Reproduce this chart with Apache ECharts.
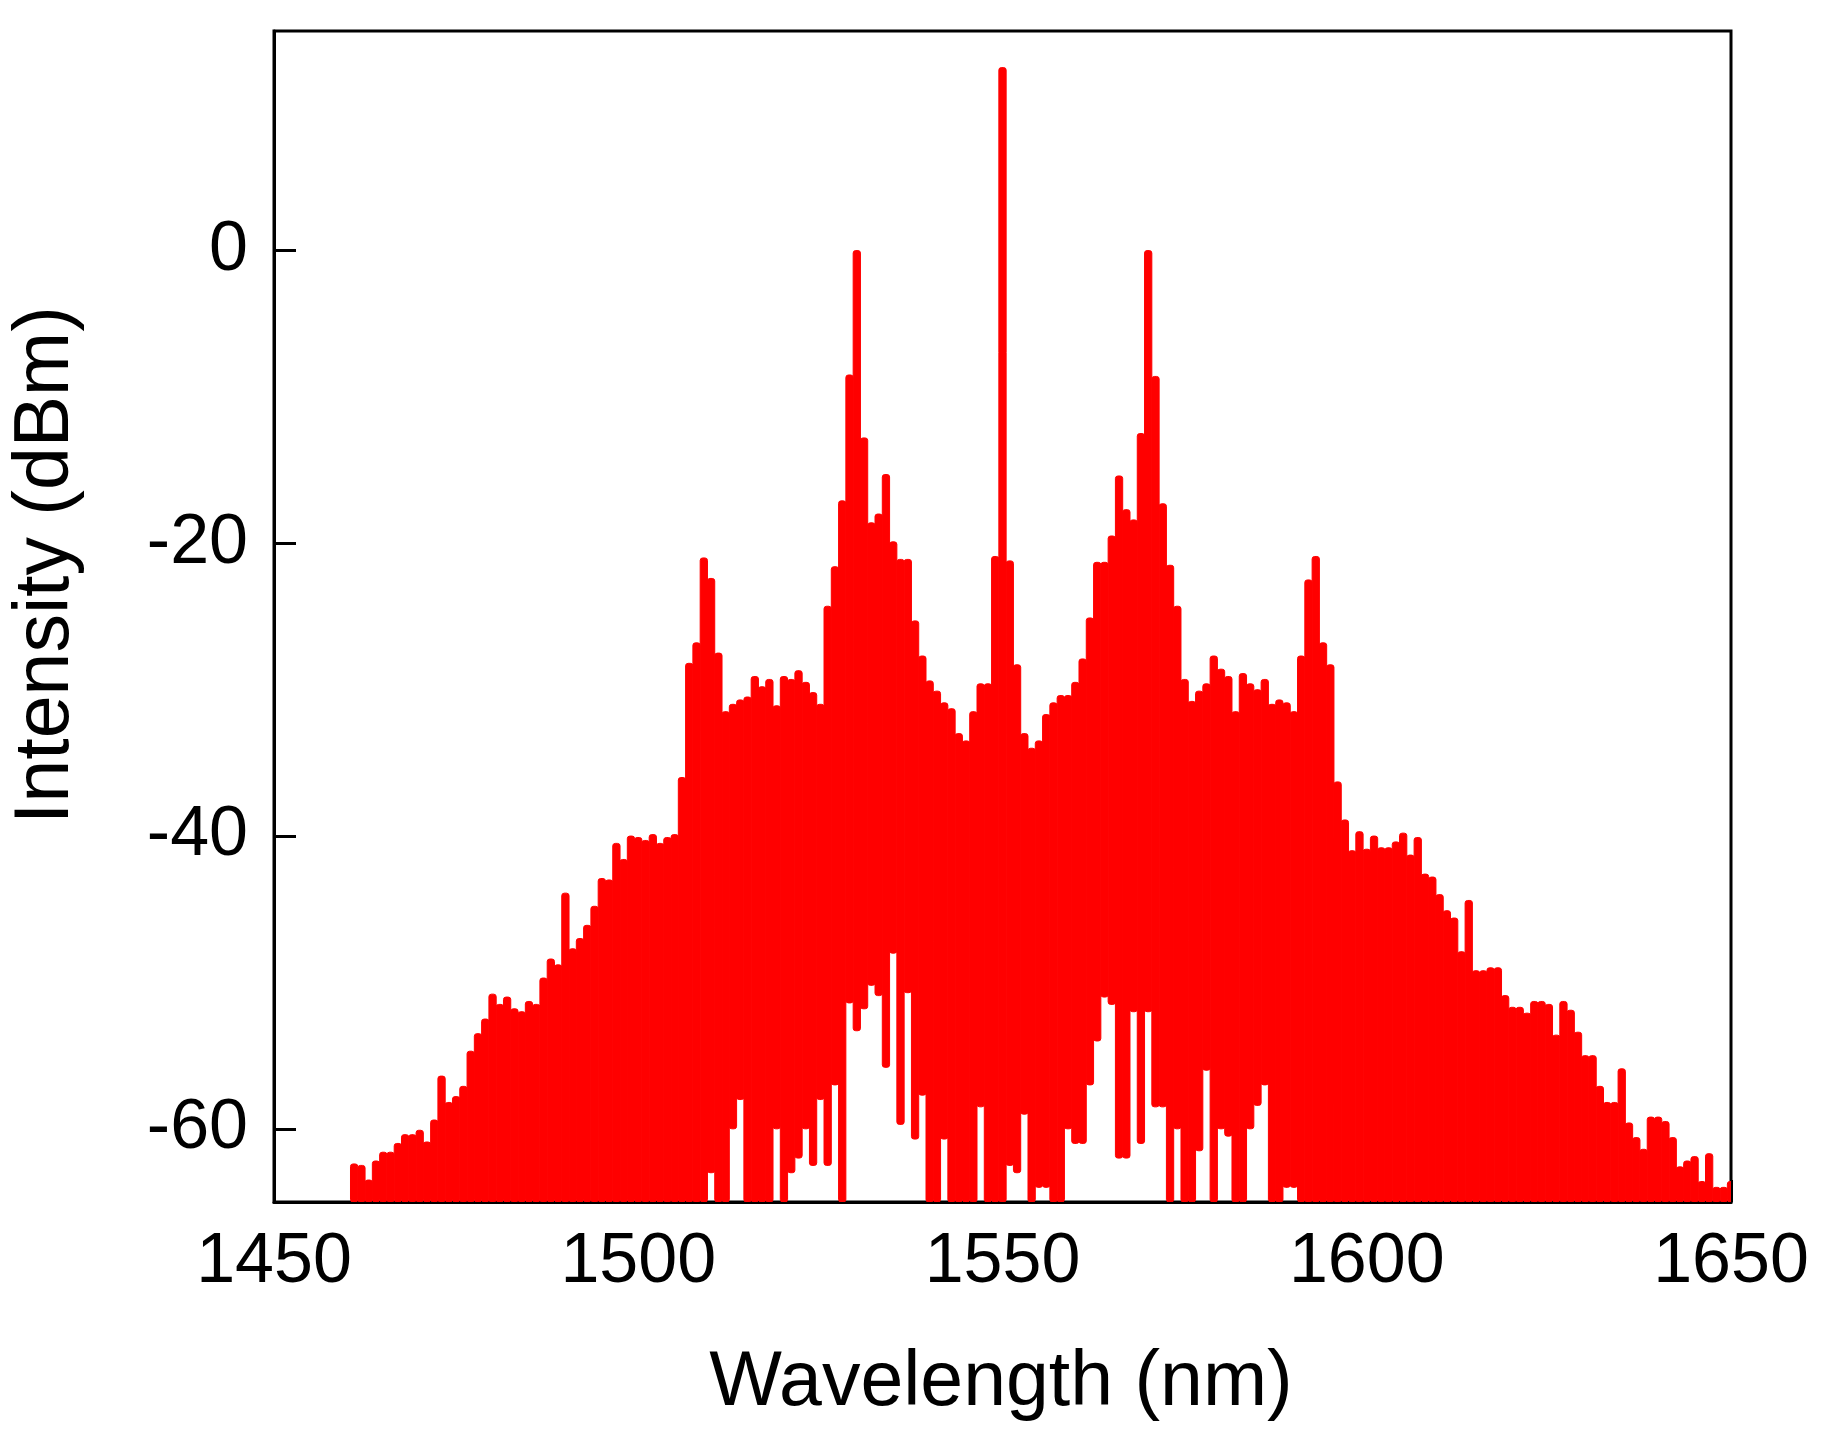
<!DOCTYPE html>
<html>
<head>
<meta charset="utf-8">
<script src="https://cdn.jsdelivr.net/npm/echarts@6/dist/echarts.min.js"></script>
<style>
  html, body { margin: 0; padding: 0; background: #fff; }
  #chart { width: 1834px; height: 1434px; }
</style>
</head>
<body>
<div id="chart"></div>
<script>
// comb spectrum, one column per nm starting at 1461 nm
const startWavelength = 1461;
const peakDbm = [
  -62.4, -62.5, -63.5, -62.2, -61.6, -61.6, -61.0, -60.4, -60.4, -60.1,
  -60.9, -59.4, -56.4, -58.2, -57.8, -57.1, -54.7, -53.5, -52.5, -50.8,
  -51.5, -51.0, -51.8, -52.0, -51.3, -51.5, -49.7, -48.4, -48.8, -43.9,
  -47.7, -47.0, -46.1, -44.8, -42.9, -43.0, -40.5, -41.6, -40.0, -40.1,
  -40.3, -39.9, -40.5, -40.1, -39.9, -36.0, -28.2, -26.8, -21.0, -22.4,
  -27.5, -31.5, -31.0, -30.7, -30.5, -29.1, -29.8, -29.3, -31.1, -29.1,
  -29.3, -28.7, -29.5, -30.2, -31.0, -24.3, -21.6, -17.1, -8.5, 0.0,
  -12.8, -18.6, -18.0, -15.3, -19.9, -21.1, -21.1, -25.3, -27.7, -29.4,
  -30.1, -30.9, -31.3, -33.0, -33.5, -31.5, -29.6, -29.6, -20.9, 12.5,
  -21.2, -28.3, -33.0, -34.0, -33.5, -31.7, -30.9, -30.4, -30.4, -29.5,
  -27.9, -25.1, -21.3, -21.3, -19.5, -15.4, -17.7, -18.4, -12.5, 0.0,
  -8.6, -17.3, -21.5, -24.3, -29.3, -30.8, -30.1, -29.6, -27.7, -28.6,
  -29.1, -31.5, -28.9, -29.6, -30.0, -29.3, -31.0, -30.7, -30.9, -31.5,
  -27.7, -22.5, -20.9, -26.8, -28.3, -36.3, -38.9, -41.0, -39.7, -40.9,
  -40.0, -40.8, -40.8, -40.4, -39.8, -41.3, -40.1, -42.6, -42.8, -44.0,
  -45.1, -45.6, -47.9, -44.4, -49.2, -49.2, -49.0, -49.0, -50.9, -51.7,
  -51.7, -52.1, -51.3, -51.3, -51.5, -53.6, -51.3, -51.9, -53.4, -55.0,
  -55.0, -57.1, -58.2, -58.2, -55.9, -59.6, -60.6, -61.4, -59.2, -59.2,
  -59.5, -60.6, -62.6, -62.2, -61.9, -63.6, -61.7, -64.0, -64.0, -63.6
];

// columns where the trace does not reach the bottom of the plot
const dipWavelength = [
  1510, 1513, 1514, 1519, 1521, 1522, 1523, 1524, 1525, 1526,
  1527, 1529, 1530, 1531, 1532, 1533, 1534, 1535, 1536, 1537,
  1538, 1539, 1542, 1547, 1551, 1552, 1553, 1555, 1556, 1559,
  1560, 1561, 1562, 1563, 1564, 1565, 1566, 1567, 1568, 1569,
  1570, 1571, 1572, 1574, 1577, 1578, 1580, 1581, 1584, 1585,
  1586, 1589, 1590
];
const dipDbm = [
  -63.0, -60.0, -58.0, -60.0, -63.0, -62.0, -60.0, -62.5, -58.0, -62.5,
  -57.0, -51.4, -53.3, -51.8, -50.2, -50.9, -55.8, -48.0, -59.7, -50.7,
  -60.7, -57.7, -60.7, -58.5, -62.5, -63.0, -59.0, -64.0, -64.0, -60.0,
  -61.0, -61.0, -57.0, -54.0, -51.0, -51.5, -62.0, -62.0, -52.0, -61.0,
  -52.0, -58.5, -58.5, -60.0, -61.5, -56.0, -60.0, -60.5, -60.0, -58.4,
  -57.0, -64.0, -64.0
];

const xTicks = [1450, 1500, 1550, 1600, 1650];
const yTicks = [-60, -40, -20, 0];
const yMin = -65;
const yMax = 15;

const wavelengths = peakDbm.map((_, i) => startWavelength + i);
const floorDbm = wavelengths.map(w => {
  const k = dipWavelength.indexOf(w);
  return k >= 0 ? dipDbm[k] : yMin;
});

const FONT = "'Liberation Sans', Arial, sans-serif";

function renderColumn(params, api) {
  const w = api.value(0);
  const top = api.coord([w - 0.5, api.value(1)]);
  const bottom = api.coord([w + 0.5, api.value(2)]);
  return {
    type: 'rect',
    shape: {
      x: top[0],
      y: top[1],
      width: bottom[0] - top[0],
      height: bottom[1] - top[1],
      r: 2.5
    },
    style: { fill: '#ff0000', stroke: '#ff0000', lineWidth: 1 }
  };
}

const chart = echarts.init(document.getElementById('chart'));
chart.setOption({
  backgroundColor: '#ffffff',
  animation: false,
  grid: {
    left: 274,
    right: 103,
    top: 31,
    bottom: 232,
    show: true,
    borderColor: '#000',
    borderWidth: 3,
    backgroundColor: 'transparent'
  },
  xAxis: {
    type: 'value',
    min: xTicks[0],
    max: xTicks[xTicks.length - 1],
    interval: 50,
    axisLine: { show: true, onZero: false, lineStyle: { color: '#000', width: 3 } },
    axisTick: { show: true, inside: true, length: 22, lineStyle: { color: '#000', width: 3 } },
    axisLabel: {
      color: '#000',
      fontSize: 70,
      fontFamily: FONT,
      margin: 26,
      formatter: v => (xTicks.includes(v) ? String(v) : '')
    },
    splitLine: { show: false }
  },
  yAxis: {
    type: 'value',
    min: yMin,
    max: yMax,
    splitNumber: 4,
    axisLine: { show: true, onZero: false, lineStyle: { color: '#000', width: 3 } },
    axisTick: { show: true, inside: true, length: 22, lineStyle: { color: '#000', width: 3 } },
    axisLabel: {
      color: '#000',
      fontSize: 70,
      fontFamily: FONT,
      margin: 26,
      showMinLabel: false,
      showMaxLabel: false,
      formatter: v => (yTicks.includes(v) ? String(v) : '')
    },
    splitLine: { show: false }
  },
  graphic: [
    {
      type: 'text',
      x: 1001,
      y: 1384,
      style: {
        text: 'Wavelength (nm)',
        font: '77px ' + FONT,
        fill: '#000',
        align: 'center',
        verticalAlign: 'middle'
      }
    },
    {
      type: 'text',
      x: 47,
      y: 565,
      rotation: Math.PI / 2,
      style: {
        text: 'Intensity (dBm)',
        font: '77px ' + FONT,
        fill: '#000',
        align: 'center',
        verticalAlign: 'middle'
      }
    }
  ],
  series: [
    {
      type: 'custom',
      clip: true,
      renderItem: renderColumn,
      encode: { x: 0, y: [1, 2] },
      data: wavelengths.map((w, i) => [w, peakDbm[i], floorDbm[i]])
    }
  ]
});
</script>
</body>
</html>
